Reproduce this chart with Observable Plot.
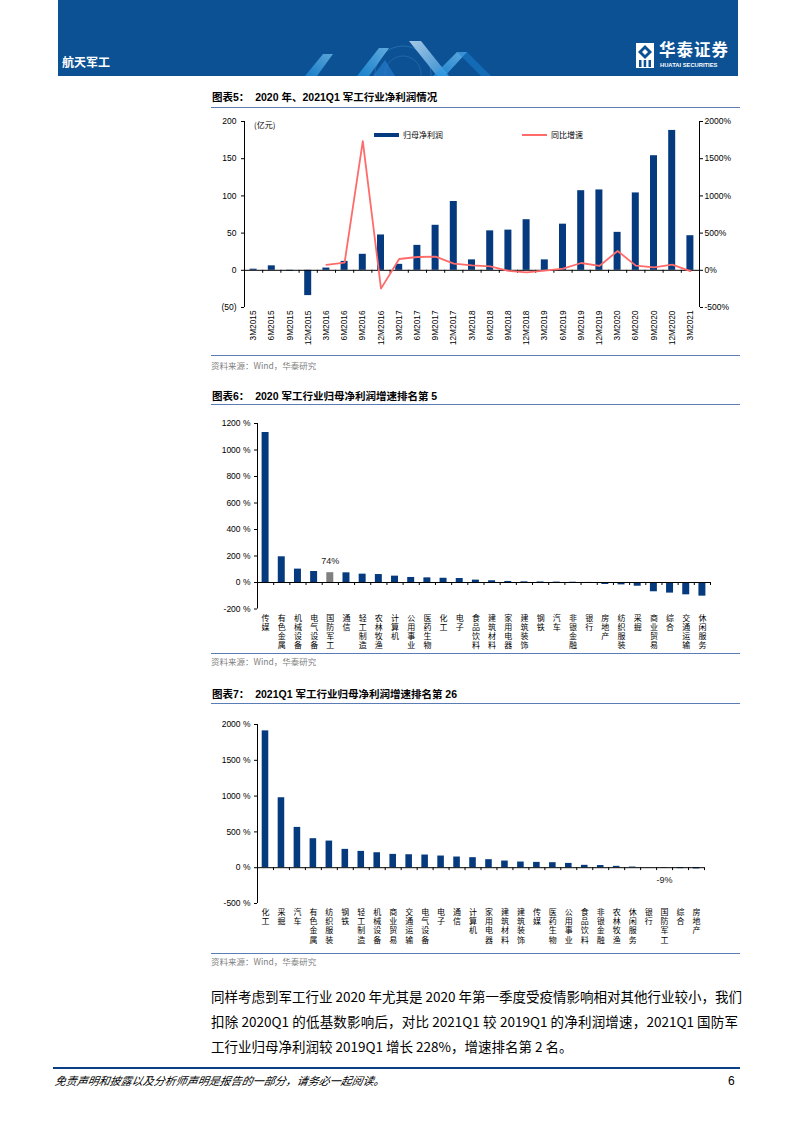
<!DOCTYPE html>
<html><head><meta charset="utf-8">
<script src="https://cdn.jsdelivr.net/npm/d3@7"></script>
<script src="https://cdn.jsdelivr.net/npm/@observablehq/plot@0.6"></script>
<style>
html,body{margin:0;padding:0;background:#fff;}
#page{position:relative;width:793px;height:1122px;overflow:hidden;font-family:"Liberation Sans","Noto Sans CJK SC",sans-serif;color:#000;}
.abs{position:absolute;white-space:nowrap;line-height:1;}
.title{font-family:"Liberation Sans","Noto Sans CJK SC",sans-serif;font-weight:700;font-size:10.5px;}
.rule{position:absolute;height:1px;background:#5b7db5;}
.src{font-family:"Noto Sans CJK SC","Liberation Sans",sans-serif;font-size:8.5px;color:#7f7f7f;}
.chart{position:absolute;}
.body{position:absolute;left:211px;width:527px;font-family:"Noto Sans CJK SC","Liberation Sans",sans-serif;font-size:13.5px;line-height:1;white-space:nowrap;}
.just{text-align:justify;text-align-last:justify;}
.leg{font-family:"Noto Sans CJK SC",sans-serif;font-size:8px;}
</style></head>
<body><div id="page">
  <div class="abs" style="left:58px;top:0;width:680px;height:76px;background:#0b5194;"></div>
  <svg class="abs" style="left:285px;top:40px" width="230" height="36">
    <defs>
      <linearGradient id="g1" x1="0" y1="1" x2="1" y2="0"><stop offset="0" stop-color="#1b8fe0"/><stop offset="1" stop-color="#7cc8f5"/></linearGradient>
      <linearGradient id="g2" x1="0" y1="0" x2="1" y2="1"><stop offset="0" stop-color="#cfe6f8"/><stop offset="1" stop-color="#3a9be0"/></linearGradient>
    </defs>
    <circle cx="118" cy="34" r="28" fill="none" stroke="#5aa8e0" stroke-opacity="0.3"/>
    <circle cx="118" cy="34" r="18" fill="none" stroke="#5aa8e0" stroke-opacity="0.25"/>
    <polygon points="20,36 38,14 48,14 32,36" fill="url(#g1)" opacity="0.7"/>
    <polygon points="72,36 94,8 104,8 84,36" fill="url(#g1)" opacity="0.75"/>
    <polygon points="88,36 100,20 110,36" fill="#2a7fd0" opacity="0.65"/>
    <polygon points="124,1 136,1 164,36 152,36" fill="url(#g2)" opacity="0.8"/>
    <polygon points="148,36 172,12 182,12 160,36" fill="url(#g1)" opacity="0.75"/>
    <polygon points="172,12 182,12 206,36 196,36" fill="#1b7fd0" opacity="0.55"/>
  </svg>
  <div class="abs" style="left:62px;top:56px;font-family:'Noto Sans CJK SC',sans-serif;font-weight:700;font-size:12px;color:#fff;">航天军工</div>
  <svg class="abs" style="left:636px;top:43px" width="18" height="25">
    <rect x="0" y="0" width="18" height="25" fill="#fff"/>
    <polygon points="9,2 16,9 9,16 2,9" fill="#0b5194"/>
    <polygon points="9,6 12,9 9,12 6,9" fill="#fff"/>
    <rect x="3" y="17" width="2.5" height="7" fill="#0b5194"/>
    <rect x="7.7" y="17" width="2.5" height="7" fill="#0b5194"/>
    <rect x="12.5" y="17" width="2.5" height="7" fill="#0b5194"/>
  </svg>
  <div class="abs" style="left:659px;top:41px;font-family:'Noto Sans CJK SC',sans-serif;font-weight:700;font-size:16.5px;color:#fff;letter-spacing:1px;">华泰证券</div>
  <div class="abs" style="left:660px;top:63px;font-family:'Liberation Sans',sans-serif;font-weight:700;font-size:5.8px;color:#fff;">HUATAI SECURITIES</div>

  <div class="abs title" style="left:212px;top:92px;">图表5：&nbsp; 2020 年、2021Q1 军工行业净利润情况</div>
  <div class="rule" style="left:211px;top:107px;width:529px;"></div>
  <div id="c5" class="chart" style="left:200px;top:110px;"></div>
  <div class="abs leg" style="left:254px;top:121px;">(亿元)</div>
  <div class="abs" style="left:374px;top:133px;width:25px;height:4px;background:#053a7e;"></div>
  <div class="abs leg" style="left:403px;top:131px;">归母净利润</div>
  <div class="abs" style="left:522px;top:134px;width:25px;height:2px;background:#ff6b6b;"></div>
  <div class="abs leg" style="left:551px;top:131px;">同比增速</div>
  <div class="rule" style="left:211px;top:355px;width:529px;"></div>
  <div class="abs src" style="left:211px;top:361px;">资料来源：Wind，华泰研究</div>

  <div class="abs title" style="left:212px;top:391px;">图表6：&nbsp; 2020 军工行业归母净利润增速排名第 5</div>
  <div class="rule" style="left:211px;top:404px;width:529px;"></div>
  <div id="c6" class="chart" style="left:200px;top:410px;"></div>
  <div class="rule" style="left:211px;top:653px;width:529px;"></div>
  <div class="abs src" style="left:211px;top:657px;">资料来源：Wind，华泰研究</div>

  <div class="abs title" style="left:212px;top:689px;">图表7：&nbsp; 2021Q1 军工行业归母净利润增速排名第 26</div>
  <div class="rule" style="left:211px;top:703px;width:529px;"></div>
  <div id="c7" class="chart" style="left:200px;top:715px;"></div>
  <div class="rule" style="left:211px;top:953px;width:529px;"></div>
  <div class="abs src" style="left:211px;top:957px;">资料来源：Wind，华泰研究</div>

  <div class="body just" style="top:990px;">同样考虑到军工行业 2020 年尤其是 2020 年第一季度受疫情影响相对其他行业较小，我们</div>
  <div class="body just" style="top:1015px;">扣除 2020Q1 的低基数影响后，对比 2021Q1 较 2019Q1 的净利润增速，2021Q1 国防军</div>
  <div class="body" style="top:1040px;">工行业归母净利润较 2019Q1 增长 228%，增速排名第 2 名。</div>

  <div class="abs" style="left:53px;top:1067px;width:687px;height:2px;background:#0a3f85;"></div>
  <div class="abs" style="left:55px;top:1075px;font-family:'Noto Sans CJK SC',sans-serif;font-style:italic;font-size:11px;transform:skewX(-10deg);transform-origin:left;">免责声明和披露以及分析师声明是报告的一部分，请务必一起阅读。</div>
  <div class="abs" style="left:728px;top:1075px;font-size:12px;">6</div>
</div>
<script>
// ---------- Data ----------
const quarters = ["3M2015","6M2015","9M2015","12M2015","3M2016","6M2016","9M2016","12M2016","3M2017","6M2017","9M2017","12M2017","3M2018","6M2018","9M2018","12M2018","3M2019","6M2019","9M2019","12M2019","3M2020","6M2020","9M2020","12M2020","3M2021"];
const netProfit = [1.5, 6, -1, -34, 3, 12, 21.5, 47.5, 8, 33.5, 60.5, 92.5, 14, 53, 54, 68, 14, 62, 107, 108, 51, 104, 154, 188, 46.5];
const yoyGrowth = [null, null, null, null, 72, 103, 1736, -246, 152, 179, 183, 89, 65, 54, -9, -27, -4, 22, 98, 58, 260, 63, 40, 76, -12];
const leftTicks = [-50, 0, 50, 100, 150, 200];
const rightTicks = [-500, 0, 500, 1000, 1500, 2000];

const industries2020 = ["传媒","有色金属","机械设备","电气设备","国防军工","通信","轻工制造","农林牧渔","计算机","公用事业","医药生物","化工","电子","食品饮料","建筑材料","家用电器","建筑装饰","钢铁","汽车","非银金融","银行","房地产","纺织服装","采掘","商业贸易","综合","交通运输","休闲服务"];
const growth2020 = [1132, 194, 101, 83, 74, 73, 63, 60, 48, 38, 35, 32, 30, 18, 13, 8, 5, 4, 3, 2, 0.5, -15, -18, -28, -70, -80, -93, -103];
const ticks6 = [-200, 0, 200, 400, 600, 800, 1000, 1200];

const industries2021 = ["化工","采掘","汽车","有色金属","纺织服装","钢铁","轻工制造","机械设备","商业贸易","交通运输","电气设备","电子","通信","计算机","家用电器","建筑材料","建筑装饰","传媒","医药生物","公用事业","食品饮料","非银金融","农林牧渔","休闲服务","银行","国防军工","综合","房地产"];
const growth2021 = [1911, 977, 563, 405, 372, 256, 228, 209, 186, 181, 177, 163, 149, 140, 112, 93, 79, 74, 70, 60, 33, 30, 19, 9, 2, -9, -13, -17];
const ticks7 = [-500, 0, 500, 1000, 1500, 2000];

const highlight = "国防军工";
const NAVY = "#053a7e";
const GRAY = "#808080";
const RED = "#ff6b6b";
const NUMFONT = "Liberation Sans, Arial, sans-serif";
const CJKFONT = "Noto Sans CJK SC, sans-serif";

// ---------- Chart 5 ----------
{
  const W = 540, H = 250, mL = 44, mR = 41, mT = 11, mB = 53;
  const bw = (W - mL - mR) / quarters.length;
  const data = quarters.map((q, i) => ({q, p: netProfit[i], g: yoyGrowth[i]}));
  const ratio = leftTicks[leftTicks.length - 1] / rightTicks[rightTicks.length - 1];
  const chart = Plot.plot({
    width: W, height: H, marginLeft: mL, marginRight: mR, marginTop: mT, marginBottom: mB,
    style: {fontFamily: NUMFONT, fontSize: "8.5px", color: "#000", background: "transparent", overflow: "visible"},
    x: {type: "band", domain: quarters, padding: 0, round: false, label: null},
    y: {domain: [leftTicks[0], leftTicks[leftTicks.length - 1]], label: null},
    marks: [
      Plot.barY(data, {x: "q", y: "p", fill: NAVY, insetLeft: 5.6, insetRight: 5.6}),
      Plot.ruleY([0], {stroke: "#000", strokeWidth: 1}),
      Plot.ruleX(quarters, {x: d => d, y1: 0, y2: -4, dx: bw / 2, stroke: "#000"}),
      Plot.ruleX([quarters[0]], {x: d => d, y1: leftTicks[0], y2: leftTicks[leftTicks.length - 1], dx: -bw / 2, stroke: "#000"}),
      Plot.ruleX([quarters[quarters.length - 1]], {x: d => d, y1: leftTicks[0], y2: leftTicks[leftTicks.length - 1], dx: bw / 2, stroke: "#000"}),
      Plot.line(data.filter(d => d.g != null), {x: "q", y: d => d.g * ratio, stroke: RED, strokeWidth: 1.8}),
      Plot.axisY({anchor: "left", ticks: leftTicks, tickFormat: d => d < 0 ? `(${-d})` : `${d}`, tickSize: 3, tickPadding: 5, label: null}),
      Plot.axisY({anchor: "right", ticks: rightTicks.map(t => t * ratio), tickFormat: d => `${Math.round(d / ratio)}%`, tickSize: 3, tickPadding: 2, label: null}),
      Plot.axisX({anchor: "bottom", tickSize: 0, tickRotate: -90, tickPadding: 3, fontSize: 8.3, label: null})
    ]
  });
  document.getElementById("c5").appendChild(chart);
}

// ---------- Bar ranking charts ----------
function rankChart(el, cats, vals, ticks, m, H, labelDy, inset) {
  const W = 540;
  const bw = (W - m.l - m.r) / cats.length;
  const data = cats.map((c, i) => ({c, v: vals[i]}));
  const hi = data.filter(d => d.c === highlight);
  const chart = Plot.plot({
    width: W, height: H, marginLeft: m.l, marginRight: m.r, marginTop: m.t, marginBottom: m.b,
    style: {fontFamily: NUMFONT, fontSize: "8.5px", color: "#000", background: "transparent", overflow: "visible"},
    x: {type: "band", domain: cats, padding: 0, round: false, axis: null, label: null},
    y: {domain: [ticks[0], ticks[ticks.length - 1]], label: null},
    marks: [
      Plot.barY(data, {x: "c", y: "v", fill: d => d.c === highlight ? GRAY : NAVY, insetLeft: inset, insetRight: inset}),
      Plot.ruleY([0], {stroke: "#000"}),
      Plot.ruleX(cats, {x: d => d, y1: 0, y2: -(ticks[ticks.length - 1] - ticks[0]) * 3 / 185, dx: bw / 2, stroke: "#000"}),
      Plot.ruleX([cats[0]], {x: d => d, y1: ticks[0], y2: ticks[ticks.length - 1], dx: -bw / 2, stroke: "#000"}),
      Plot.axisY({anchor: "left", ticks, tickFormat: d => `${d} %`, tickSize: 3, tickPadding: 4, label: null}),
      Plot.text(data, {x: "c", frameAnchor: "bottom", text: d => d.c.split("").join("\n"), lineAnchor: "top", dy: 5, lineHeight: 1.15, fontSize: 8, fontFamily: CJKFONT, fill: "#000"}),
      Plot.text(hi, {x: "c", y: "v", text: d => `${d.v}%`, dy: labelDy, fontSize: 9, fontFamily: NUMFONT, fill: "#222"})
    ]
  });
  document.getElementById(el).appendChild(chart);
}
rankChart("c6", industries2020, growth2020, ticks6, {l: 57, r: 30, t: 13, b: 51.5}, 250, -12, 4.6);
rankChart("c7", industries2021, growth2021, ticks7, {l: 57, r: 36, t: 9, b: 62}, 250, 12, 4.7);
</script>
</body></html>
